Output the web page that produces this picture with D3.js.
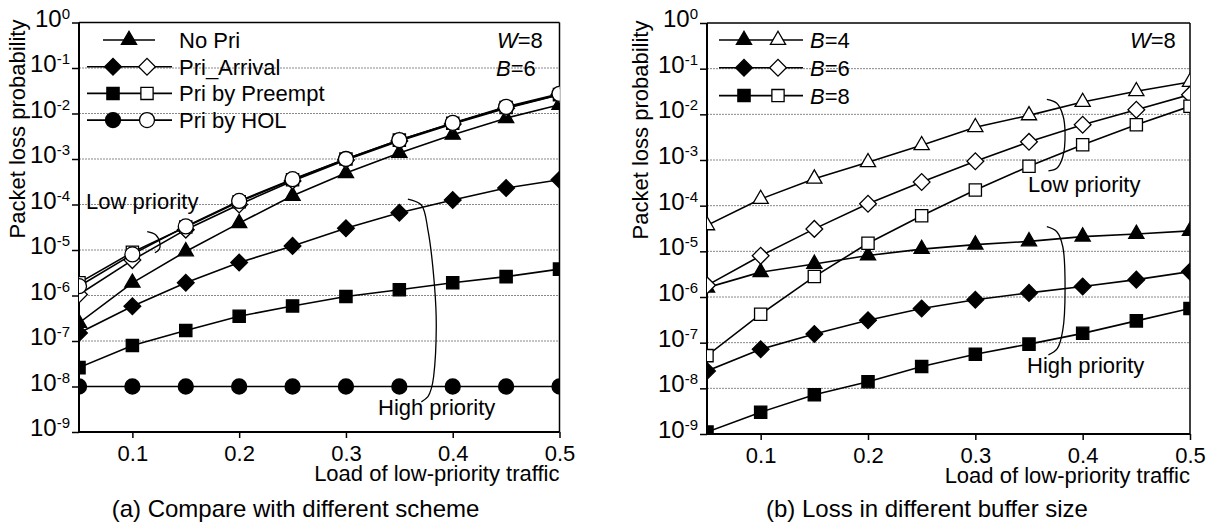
<!DOCTYPE html>
<html>
<head>
<meta charset="utf-8">
<script src="https://cdn.jsdelivr.net/npm/d3@7"></script>
<style>
  body { margin: 0; background: #fff; }
  svg { font-family: Arial, "Liberation Sans", sans-serif; }
</style>
</head>
<body>
<svg id="chart" width="1214" height="525"></svg>
<script>
// x values shared by every curve
const loads = [0.05, 0.1, 0.15, 0.2, 0.25, 0.3, 0.35, 0.4, 0.45, 0.5];
const xTicks = [0.1, 0.2, 0.3, 0.4, 0.5];
const yExps = [0, -1, -2, -3, -4, -5, -6, -7, -8, -9];

// (a) schemes, W=8, B=6
const noPri        = [2.5e-7, 1.9e-6, 9.3e-6, 3.9e-5, 1.55e-4, 4.9e-4, 1.35e-3, 3.4e-3, 7.9e-3, 1.55e-2];
const arrivalHigh  = [1.5e-7, 5.8e-7, 1.9e-6, 5.3e-6, 1.23e-5, 3.0e-5, 6.6e-5, 1.26e-4, 2.3e-4, 3.5e-4];
const arrivalLow   = [1.05e-6, 6.0e-6, 2.8e-5, 1.0e-4, 3.3e-4, 9.5e-4, 2.5e-3, 5.9e-3, 1.3e-2, 2.6e-2];
const preemptHigh  = [2.6e-8, 8.0e-8, 1.7e-7, 3.5e-7, 5.9e-7, 9.5e-7, 1.34e-6, 1.9e-6, 2.6e-6, 3.8e-6];
const preemptLow   = [1.9e-6, 8.9e-6, 3.2e-5, 1.15e-4, 3.5e-4, 1.0e-3, 2.6e-3, 6.1e-3, 1.35e-2, 2.6e-2];
const holHigh      = [1e-8, 1e-8, 1e-8, 1e-8, 1e-8, 1e-8, 1e-8, 1e-8, 1e-8, 1e-8];
const holLow       = [1.6e-6, 8.0e-6, 3.3e-5, 1.2e-4, 3.6e-4, 1.0e-3, 2.6e-3, 6.2e-3, 1.4e-2, 2.7e-2];

// (b) buffer sizes, W=8
const b4High = [1.6e-6, 3.5e-6, 5.3e-6, 8.1e-6, 1.12e-5, 1.4e-5, 1.65e-5, 2.1e-5, 2.4e-5, 2.8e-5];
const b4Low  = [3.7e-5, 1.4e-4, 3.9e-4, 8.9e-4, 2.1e-3, 5.2e-3, 9.5e-3, 1.86e-2, 3.2e-2, 5.1e-2];
const b6High = [2.4e-8, 7.2e-8, 1.55e-7, 3.1e-7, 5.6e-7, 8.7e-7, 1.23e-6, 1.7e-6, 2.4e-6, 3.6e-6];
const b6Low  = [1.8e-6, 8.0e-6, 3.1e-5, 1.1e-4, 3.3e-4, 9.4e-4, 2.5e-3, 5.9e-3, 1.26e-2, 2.7e-2];
const b8High = [1.1e-9, 3.0e-9, 7.2e-9, 1.4e-8, 3.0e-8, 5.6e-8, 9.3e-8, 1.6e-7, 3.0e-7, 5.6e-7];
const b8Low  = [5.2e-8, 4.2e-7, 2.8e-6, 1.5e-5, 6.0e-5, 2.2e-4, 7.3e-4, 2.15e-3, 5.9e-3, 1.5e-2];

const legendA = ["No Pri", "Pri_Arrival", "Pri by Preempt", "Pri by HOL"];
const legendB = ["4", "6", "8"];

// brace curves, in [load, probability]
const braceALow  = [[0.1139, 2.52e-5], [0.122, 2.14e-5], [0.1258, 1.40e-5], [0.1251, 1.03e-5], [0.1211, 8.7e-6]];
const braceAHigh = [[0.358, 1.32e-4], [0.3706, 9.75e-5], [0.3768, 2.75e-5], [0.383, 1.56e-6], [0.3846, 2.06e-7],
                    [0.3821, 1.64e-8], [0.38, 9.1e-9], [0.3768, 5.97e-9], [0.3706, 4.6e-9]];
const braceBLow  = [[0.3666, 2.13e-2], [0.3759, 1.75e-2], [0.3815, 9.7e-3], [0.3836, 3.85e-3], [0.3815, 1.18e-3],
                    [0.3759, 6.6e-4], [0.3681, 5.8e-4]];
const braceBHigh = [[0.3666, 3.47e-5], [0.3759, 2.69e-5], [0.3815, 1.26e-5], [0.3836, 1.43e-6], [0.3815, 1.9e-7],
                    [0.3765, 7.5e-8], [0.3681, 5.4e-8]];

const svg = d3.select("#chart");

const symbolTypes = { triangle: d3.symbolTriangle, diamond: d3.symbolSquare, square: d3.symbolSquare, circle: d3.symbolCircle };
const symbolSizes = { triangle: 100, diamond: 140, square: 150, circle: 177 };

function drawMarker(sel, shape, filled, cx, cy) {
    sel.append("path")
        .attr("d", d3.symbol(symbolTypes[shape], symbolSizes[shape])())
        .attr("transform", `translate(${cx},${cy})` + (shape === "diamond" ? " rotate(45)" : ""))
        .attr("fill", filled ? "#000" : "#fff")
        .attr("stroke", "#000")
        .attr("stroke-width", 1.3);
}

function drawPanel(p) {
    const g = svg.append("g");
    const x = d3.scaleLinear().domain([0.05, 0.5]).range([p.x0, p.x1]);
    const y = d3.scaleLog().domain([1e-9, 1]).range([p.y0, p.y1]);

    // dotted grid
    g.append("g").selectAll("line")
        .data(yExps.slice(1, -1))
        .join("line")
        .attr("x1", p.x0).attr("x2", p.x1)
        .attr("y1", d => y(Math.pow(10, d))).attr("y2", d => y(Math.pow(10, d)))
        .attr("stroke", "#888").attr("stroke-width", 1).attr("stroke-dasharray", "2,1");

    // axes
    const xAxis = d3.axisBottom(x).tickValues(xTicks).tickSize(6).tickPadding(7).tickFormat(d3.format(".1f"));
    const xg = g.append("g").attr("transform", `translate(0,${p.y0})`).call(xAxis);
    xg.select(".domain").remove();
    xg.selectAll(".tick line").attr("stroke-width", 1.5);
    xg.selectAll(".tick text").attr("font-size", 22).attr("fill", "#000").attr("font-family", null);

    const yAxis = d3.axisLeft(y).tickValues(yExps.map(e => Math.pow(10, e))).tickSize(7).tickPadding(2);
    const yg = g.append("g").attr("transform", `translate(${p.x0},0)`).call(yAxis);
    yg.select(".domain").remove();
    yg.selectAll(".tick line").attr("stroke-width", 1.5);
    yg.selectAll(".tick text")
        .attr("font-family", null).attr("fill", "#000").attr("dy", "0.36em")
        .text(null)
        .each(function(d) {
            const t = d3.select(this);
            t.append("tspan").attr("font-size", 24).text("10");
            t.append("tspan").attr("font-size", 15).attr("dy", -8).text(String(Math.round(Math.log10(d))));
        });

    // frame
    g.append("line").attr("x1", p.x0).attr("x2", p.x1).attr("y1", p.y1).attr("y2", p.y1).attr("stroke", "#000").attr("stroke-width", 1.5);
    g.append("line").attr("x1", p.x1).attr("x2", p.x1).attr("y1", p.y1).attr("y2", p.y0).attr("stroke", "#000").attr("stroke-width", 1.5);
    g.append("line").attr("x1", p.x0).attr("x2", p.x0).attr("y1", p.y1).attr("y2", p.y0 + 1).attr("stroke", "#000").attr("stroke-width", 2);
    g.append("line").attr("x1", p.x0 - 1).attr("x2", p.x1).attr("y1", p.y0).attr("y2", p.y0).attr("stroke", "#000").attr("stroke-width", 2);

    // data, clipped to plot area
    const clipId = "clip" + p.id;
    svg.append("clipPath").attr("id", clipId).append("rect")
        .attr("x", p.x0).attr("y", p.y1).attr("width", p.x1 - p.x0).attr("height", p.y0 - p.y1);
    const plot = g.append("g").attr("clip-path", `url(#${clipId})`);
    const line = d3.line().x((d, i) => x(loads[i])).y(d => y(d));

    p.series.forEach(s => {
        plot.append("path").attr("d", line(s.values))
            .attr("fill", "none").attr("stroke", "#000").attr("stroke-width", 1.6);
    });
    p.series.forEach(s => {
        s.values.forEach((v, i) => drawMarker(plot, s.shape, s.filled, x(loads[i]), y(v)));
    });

    // braces
    const brace = d3.line().x(d => x(d[0])).y(d => y(d[1])).curve(d3.curveCatmullRom);
    p.braces.forEach(b => {
        g.append("path").attr("d", brace(b)).attr("fill", "none").attr("stroke", "#000").attr("stroke-width", 1.3);
    });

    // annotations
    p.notes.forEach(n => {
        const t = g.append("text").attr("x", n.x).attr("y", n.y).attr("font-size", 22);
        n.parts.forEach(part => t.append("tspan").attr("font-style", part[1] ? "italic" : null).text(part[0]));
    });

    // y title
    g.append("text")
        .attr("transform", `translate(${p.titleX},${p.titleY}) rotate(-90)`)
        .attr("text-anchor", "middle").attr("font-size", 22)
        .text("Packet loss probability");

    // x title
    g.append("text").attr("x", p.x1).attr("y", p.y0 + 49).attr("text-anchor", "end").attr("font-size", 22)
        .text("Load of low-priority traffic");

    // caption
    g.append("text").attr("x", p.capX).attr("y", 517).attr("text-anchor", "middle").attr("font-size", 24)
        .text(p.caption);

    // legend
    p.legend.forEach((item, i) => {
        const ly = p.legY + i * p.legStep;
        g.append("line").attr("x1", item.l0).attr("x2", item.l1).attr("y1", ly).attr("y2", ly)
            .attr("stroke", "#000").attr("stroke-width", 1.6);
        item.marks.forEach(m => drawMarker(g, item.shape, m[1], m[0], ly));
        const t = g.append("text").attr("x", p.legTextX).attr("y", ly + 8).attr("font-size", 22);
        item.label.forEach(part => t.append("tspan").attr("font-style", part[1] ? "italic" : null).text(part[0]));
    });
}

drawPanel({
    id: "a", x0: 79, x1: 559.5, y0: 432, y1: 22.5,
    titleX: 25, titleY: 129, capX: 295.5,
    caption: "(a) Compare with different scheme",
    series: [
        { values: noPri, shape: "triangle", filled: true },
        { values: arrivalHigh, shape: "diamond", filled: true },
        { values: arrivalLow, shape: "diamond", filled: false },
        { values: preemptHigh, shape: "square", filled: true },
        { values: preemptLow, shape: "square", filled: false },
        { values: holHigh, shape: "circle", filled: true },
        { values: holLow, shape: "circle", filled: false }
    ],
    braces: [braceALow, braceAHigh],
    notes: [
        { x: 497, y: 48, parts: [["W", true], ["=8", false]] },
        { x: 496, y: 76, parts: [["B", true], ["=6", false]] },
        { x: 86, y: 209, parts: [["Low priority", false]] },
        { x: 378, y: 415, parts: [["High priority", false]] }
    ],
    legY: 40, legStep: 26.7, legTextX: 179,
    legend: [
        { label: [[legendA[0], false]], shape: "triangle", l0: 103, l1: 155, marks: [[129, true]] },
        { label: [[legendA[1], false]], shape: "diamond", l0: 87, l1: 172, marks: [[113, true], [147, false]] },
        { label: [[legendA[2], false]], shape: "square", l0: 87, l1: 172, marks: [[113, true], [147, false]] },
        { label: [[legendA[3], false]], shape: "circle", l0: 87, l1: 172, marks: [[113, true], [147, false]] }
    ]
});

drawPanel({
    id: "b", x0: 707, x1: 1190, y0: 434, y1: 23,
    titleX: 648, titleY: 130, capX: 927,
    caption: "(b) Loss in different buffer size",
    series: [
        { values: b4High, shape: "triangle", filled: true },
        { values: b4Low, shape: "triangle", filled: false },
        { values: b6High, shape: "diamond", filled: true },
        { values: b6Low, shape: "diamond", filled: false },
        { values: b8High, shape: "square", filled: true },
        { values: b8Low, shape: "square", filled: false }
    ],
    braces: [braceBLow, braceBHigh],
    notes: [
        { x: 1130, y: 48, parts: [["W", true], ["=8", false]] },
        { x: 1028, y: 192, parts: [["Low priority", false]] },
        { x: 1027, y: 373, parts: [["High priority", false]] }
    ],
    legY: 40, legStep: 27.8, legTextX: 810,
    legend: legendB.map((b, i) => ({
        label: [["B", true], ["=" + b, false]],
        shape: ["triangle", "diamond", "square"][i],
        l0: 719, l1: 803, marks: [[744, true], [778, false]]
    }))
});
</script>
</body>
</html>
